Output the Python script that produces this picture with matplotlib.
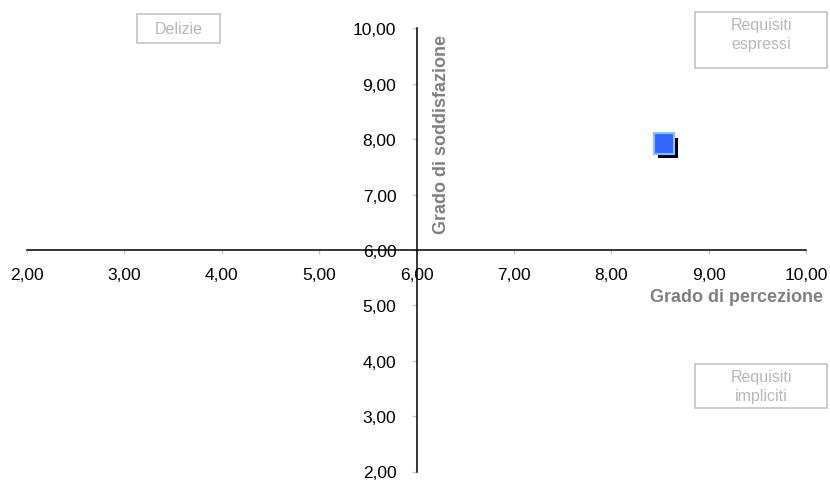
import matplotlib
matplotlib.use("Agg")
import matplotlib.pyplot as plt
import matplotlib.patheffects as pe
from matplotlib.ticker import FuncFormatter, MultipleLocator
from matplotlib.patches import Rectangle

plt.rcParams['font.family'] = ['Liberation Sans', 'DejaVu Sans']

# Data
percezione = [8.54]
soddisfazione = [7.92]
x_title = "Grado di percezione"
y_title = "Grado di soddisfazione"
quadranti = ["Delizie", "Requisiti\nespressi", "Requisiti\nimpliciti"]

W, H = 830, 481
fig = plt.figure(figsize=(W / 100, H / 100), dpi=100)
ax_l, ax_r, ax_t, ax_b = 27, 806, 29.3, 472.5
ax = fig.add_axes([ax_l / W, 1 - ax_b / H, (ax_r - ax_l) / W, (ax_b - ax_t) / H])

ax.set_xlim(2, 10)
ax.set_ylim(2, 10)
ax.patch.set_visible(False)

for s in ('top', 'right'):
    ax.spines[s].set_visible(False)
ax.spines['left'].set_position(('data', 6))
ax.spines['bottom'].set_position(('data', 6))
for s in ('left', 'bottom'):
    ax.spines[s].set_color('black')
    ax.spines[s].set_linewidth(1.1)

ax.xaxis.set_major_locator(MultipleLocator(1))
ax.yaxis.set_major_locator(MultipleLocator(1))
fmt = FuncFormatter(lambda v, p: f"{v:.2f}".replace('.', ','))
ax.xaxis.set_major_formatter(fmt)
ax.yaxis.set_major_formatter(fmt)
ax.tick_params(axis='x', direction='out', length=3, width=1, color='#c8c8c8',
               pad=9, labelsize=12.5, labelcolor='black')
ax.tick_params(axis='y', direction='out', length=3.5, width=1, color='#c8c8c8',
               pad=11, labelsize=12.5, labelcolor='black')

# Data point with drop shadow
ax.plot(percezione, soddisfazione, linestyle='none', marker='s', markersize=14.5,
        markerfacecolor='#3366ff', markeredgecolor='#8fbfff', markeredgewidth=1.5,
        path_effects=[pe.SimplePatchShadow(offset=(3, -3), shadow_rgbFace='black', alpha=1.0),
                      pe.Normal()], zorder=5)

# Axis titles
ax.set_xlabel(x_title, fontsize=13, fontweight='bold', color='#808080')
ax.xaxis.set_label_coords((823 - ax_l) / (ax_r - ax_l), (ax_b - 298) / (ax_b - ax_t))
ax.xaxis.label.set_ha('right')
ax.xaxis.label.set_va('center')
ax.set_ylabel(y_title, fontsize=13, fontweight='bold', color='#808080')
ax.yaxis.set_label_coords((441 - ax_l) / (ax_r - ax_l), (ax_b - 134) / (ax_b - ax_t))
ax.yaxis.label.set_va('center')
ax.yaxis.label.set_ha('center')

# Quadrant labels in boxes (pixel boxes: left, top, right, bottom, text center y)
boxes = [(137, 15, 220, 44, 29.5), (695, 13, 827, 69, 35), (695, 365, 827, 409, 387)]
for label, (l, t, r, b, cy) in zip(quadranti, boxes):
    fig.patches.append(Rectangle((l / W, 1 - b / H), (r - l) / W, (b - t) / H,
                                 transform=fig.transFigure, fill=False,
                                 edgecolor='#c8c8c8', linewidth=1.3))
    fig.text((l + r) / 2 / W, 1 - cy / H, label, ha='center', va='center',
             fontsize=11.5, color='#b8b8b8', linespacing=1.3)

fig.savefig("out.png", dpi=100)
